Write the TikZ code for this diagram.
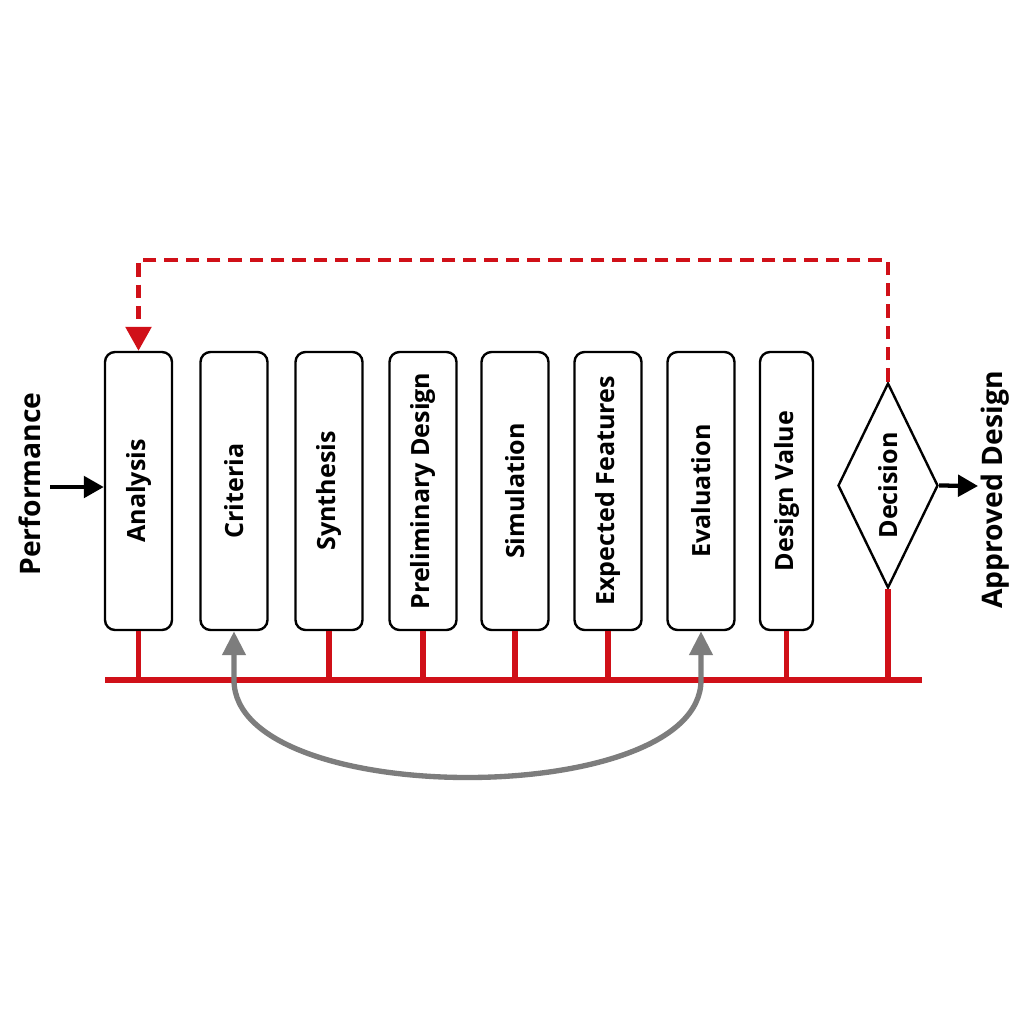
\documentclass[tikz,border=0pt]{standalone}
\usepackage{fontspec}
\setmainfont{Open Sans}
\usetikzlibrary{arrows.meta,shapes.geometric}
\definecolor{myred}{RGB}{208,16,24}
\definecolor{mygray}{RGB}{125,125,125}
\tikzset{
  box/.style={draw=black, line width=1.8pt, rounded corners=7.5pt, fill=white,
    minimum width=50.25pt, minimum height=208.5pt, inner sep=0pt,
    font=\fontsize{18.8}{20}\selectfont\bfseries},
  redline/.style={draw=myred, line width=3.8pt},
  reddash/.style={draw=myred, line width=3.5pt, dash pattern=on 10pt off 6pt},
  grayline/.style={draw=mygray, line width=4pt},
  blk/.style={draw=black, line width=3.2pt},
  outer/.style={font=\fontsize{21.2}{23}\selectfont\bfseries}
}
\begin{document}
\begin{tikzpicture}[x=0.75pt,y=-0.75pt]
\useasboundingbox (0,0) rectangle (1024,1024);
\fill[white] (0,0) rectangle (1024,1024);
\node[box] (ana) at (138.5,491) {\rotatebox{90}{Analysis}};
\node[box] (cri) at (234,491) {\rotatebox{90}{Criteria}};
\node[box] (syn) at (329,491) {\rotatebox{90}{Synthesis}};
\node[box] (pre) at (423,491) {\rotatebox{90}{Preliminary Design}};
\node[box] (sim) at (515,491) {\rotatebox{90}{Simulation}};
\node[box] (exp) at (608,491) {\rotatebox{90}{Expected Features}};
\node[box] (eva) at (701,491) {\rotatebox{90}{Evaluation}};
\node[box, minimum width=39.75pt] (dva) at (786.5,491) {\rotatebox{90}{Design Value}};
\node[draw=black, line width=1.8pt, diamond, aspect=0.49, minimum width=75pt, minimum height=153.75pt, inner sep=0pt, fill=white, font=\fontsize{18.8}{20}\selectfont\bfseries] (dec) at (888,485.5) {\rotatebox{90}{Decision}};
\node[outer, rotate=90] (perf) at (30,484) {Performance};
\node[outer, rotate=90] (appr) at (995,490) {Approved Design};
\coordinate (perfa) at (50,487);
\coordinate (appra) at (978,486);
\draw[blk, -{Triangle[length=15pt,width=16pt]}] (perfa) -- (ana.west |- perfa);
\draw[blk, -{Triangle[length=15pt,width=16pt]}] (dec.east) -- (appra);
% bus
\coordinate (busl) at (105,680);
\coordinate (busr) at (922,680);
\draw[redline] (busl) -- (busr);
\foreach \n in {ana,syn,pre,sim,exp,dva,dec}{
  \draw[redline] (\n.south) -- (\n.south |- busl);
}
% dashed feedback
\coordinate (dtop) at (888,260);
\draw[reddash, -{Triangle[length=18pt,width=19pt]}] (dec.north) -- (dtop) -| (ana.north);
% gray curve
\draw[grayline, {Triangle[length=18pt,width=17pt]}-{Triangle[length=18pt,width=17pt]}]
  (cri.south) -- (cri.south |- busl) .. controls (234,810) and (701,810) .. (eva.south |- busl) -- (eva.south);
\end{tikzpicture}
\end{document}
